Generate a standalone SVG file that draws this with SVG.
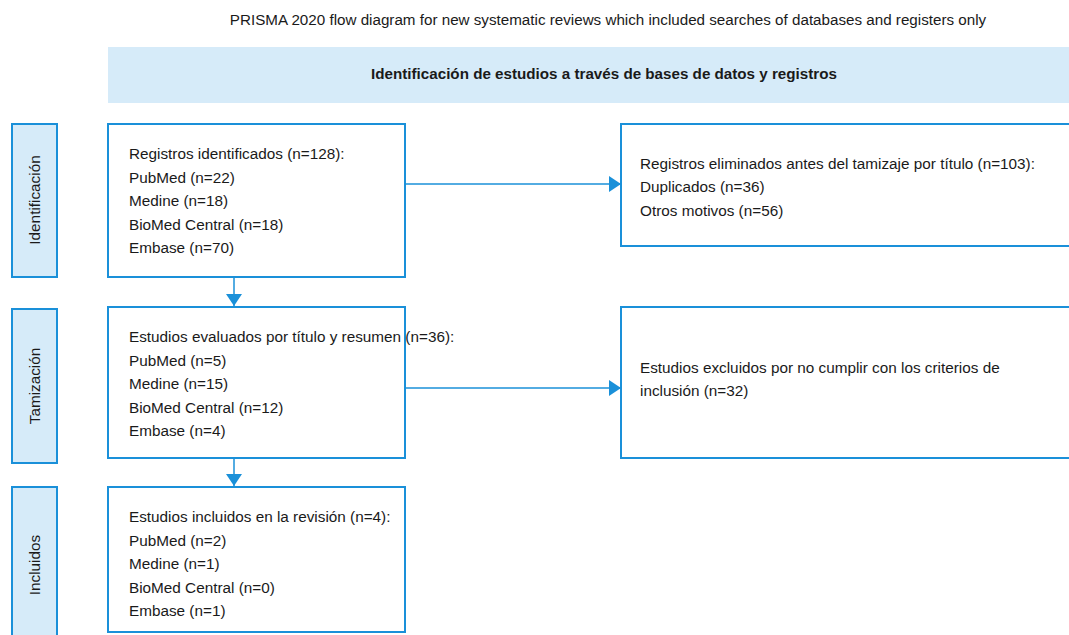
<svg xmlns="http://www.w3.org/2000/svg" width="1069" height="635" viewBox="0 0 1069 635">
<defs>
<style>
.t{font-family:"Liberation Sans",Arial,sans-serif;font-size:15.3px;fill:#1a1a1a}
.title{font-family:"Liberation Sans",Arial,sans-serif;font-size:15.2px;fill:#1a1a1a}
.hdr{font-family:"Liberation Sans",Arial,sans-serif;font-size:15.2px;font-weight:bold;fill:#1a1a1a}
.box{fill:#ffffff;stroke:#1a90d9;stroke-width:2}
.side{fill:#d6ebf9;stroke:#1a90d9;stroke-width:2}
.band{fill:#d6ebf9}
.conn{fill:none;stroke:#1a90d9;stroke-width:1.5}
</style>
<marker id="arr" viewBox="0 0 12 16" refX="12" refY="8" markerWidth="12" markerHeight="16" markerUnits="userSpaceOnUse" orient="auto">
<path d="M0,0 L12,8 L0,16 Z" fill="#1a90d9"/>
</marker>
</defs>
<rect width="1069" height="635" fill="#ffffff"/>
<g id="title"><text class="title" x="608" y="25" text-anchor="middle">PRISMA 2020 flow diagram for new systematic reviews which included searches of databases and registers only</text></g>
<g id="header"><rect class="band" x="108" y="47" width="970" height="56"/><text class="hdr" x="604" y="78.5" text-anchor="middle">Identificación de estudios a través de bases de datos y registros</text></g>
<g id="side-identificacion"><rect class="side" x="12" y="124" width="45" height="153"/><text class="t" transform="translate(34.5,200) rotate(-90)" text-anchor="middle" dominant-baseline="central">Identificación</text></g>
<g id="side-tamizacion"><rect class="side" x="12" y="309" width="45" height="154"/><text class="t" transform="translate(34.5,386) rotate(-90)" text-anchor="middle" dominant-baseline="central">Tamización</text></g>
<g id="side-incluidos"><rect class="side" x="12" y="487" width="45" height="160"/><text class="t" transform="translate(34.5,565) rotate(-90)" text-anchor="middle" dominant-baseline="central">Incluidos</text></g>
<g id="box-identificados"><rect class="box" x="108" y="124" width="297" height="153"/>
<text class="t" x="129" y="159">Registros identificados (n=128):</text>
<text class="t" x="129" y="182.5">PubMed (n=22)</text>
<text class="t" x="129" y="206">Medine (n=18)</text>
<text class="t" x="129" y="229.5">BioMed Central (n=18)</text>
<text class="t" x="129" y="253">Embase (n=70)</text></g>
<g id="box-eliminados"><rect class="box" x="621" y="124" width="470" height="122"/>
<text class="t" x="640" y="168.5">Registros eliminados antes del tamizaje por título (n=103):</text>
<text class="t" x="640" y="192">Duplicados (n=36)</text>
<text class="t" x="640" y="215.5">Otros motivos (n=56)</text></g>
<g id="box-evaluados"><rect class="box" x="108" y="307" width="297" height="151"/>
<text class="t" x="129" y="342">Estudios evaluados por título y resumen (n=36):</text>
<text class="t" x="129" y="365.5">PubMed (n=5)</text>
<text class="t" x="129" y="389">Medine (n=15)</text>
<text class="t" x="129" y="412.5">BioMed Central (n=12)</text>
<text class="t" x="129" y="436">Embase (n=4)</text></g>
<g id="box-excluidos"><rect class="box" x="621" y="307" width="470" height="151"/>
<text class="t" x="640" y="372.5">Estudios excluidos por no cumplir con los criterios de</text>
<text class="t" x="640" y="396">inclusión (n=32)</text></g>
<g id="box-incluidos"><rect class="box" x="108" y="487" width="297" height="145"/>
<text class="t" x="129" y="522">Estudios incluidos en la revisión (n=4):</text>
<text class="t" x="129" y="545.5">PubMed (n=2)</text>
<text class="t" x="129" y="569">Medine (n=1)</text>
<text class="t" x="129" y="592.5">BioMed Central (n=0)</text>
<text class="t" x="129" y="616">Embase (n=1)</text></g>
<g id="connectors">
<line class="conn" x1="405" y1="184" x2="621" y2="184" marker-end="url(#arr)"/>
<line class="conn" x1="405" y1="388" x2="621" y2="388" marker-end="url(#arr)"/>
<line class="conn" x1="234" y1="278" x2="234" y2="306" marker-end="url(#arr)"/>
<line class="conn" x1="234" y1="459" x2="234" y2="486" marker-end="url(#arr)"/>
</g>
</svg>
